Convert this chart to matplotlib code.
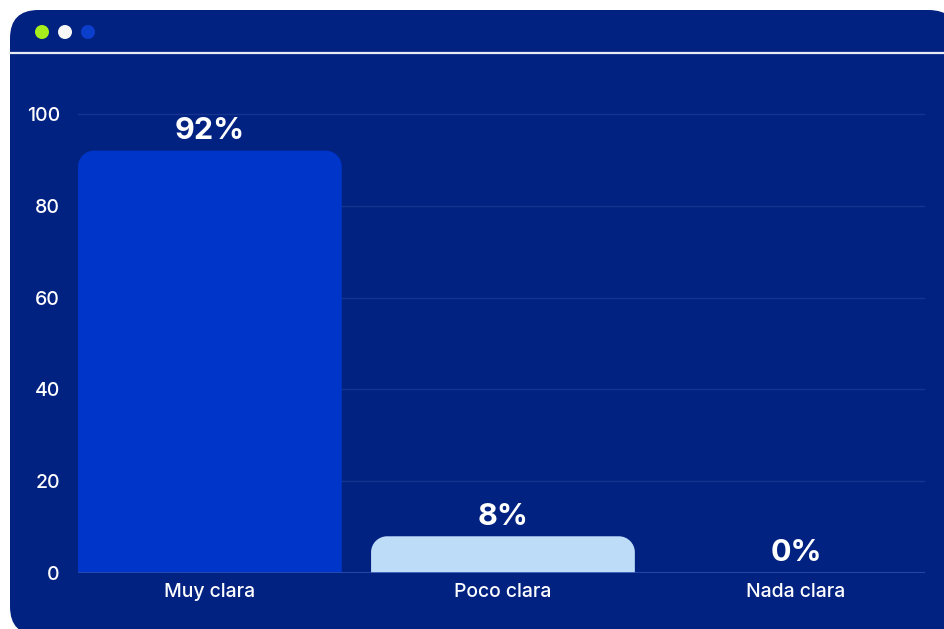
import matplotlib
matplotlib.use("Agg")
import matplotlib.pyplot as plt
from matplotlib.patches import FancyBboxPatch, Ellipse, PathPatch
from matplotlib.path import Path
from matplotlib.lines import Line2D

categories = ["Muy clara", "Poco clara", "Nada clara"]
values = [92, 8, 0]
value_labels = ["92%", "8%", "0%"]
yticks = [0, 20, 40, 60, 80, 100]

PANEL = "#012281"
BAR_COLORS = ["#0035c9", "#bddcf8", "#bddcf8"]
GRID = "#15358f"
BASE = "#2c4fae"
TEXT = "#ffffff"
FONT = ["Inter", "DejaVu Sans"]

W, H = 945, 629
fig = plt.figure(figsize=(W / 100, H / 100), dpi=100)
fig.patch.set_facecolor("white")

# window-like panel behind the chart
panel = FancyBboxPatch((10 / W, -6 / H), (W + 2) / W, (H - 4) / H,
                       boxstyle="round,pad=0,rounding_size=0.03",
                       transform=fig.transFigure, facecolor=PANEL,
                       edgecolor="none", mutation_aspect=W / H, zorder=-10)
fig.add_artist(panel)
fig.add_artist(Line2D([10 / W, 1.0], [1 - 53 / H] * 2, transform=fig.transFigure,
                      color="#e8ecf6", lw=1.6, zorder=-5))
r = 7.0
for cx, col in zip([42, 65, 88], ["#a6ef1c", "#f7f7f7", "#0b3fcb"]):
    fig.add_artist(Ellipse((cx / W, 1 - 32 / H), 2 * r / W, 2 * r / H,
                           transform=fig.transFigure, facecolor=col,
                           edgecolor="none", zorder=-5))

ax = fig.add_axes([78 / W, 56 / H, 847 / W, 482 / H])
ax.set_zorder(5)
ax.set_facecolor("none")
ax.set_xlim(-0.45, 2.44)
ax.set_ylim(0, 105)
for s in ax.spines.values():
    s.set_visible(False)

for y in yticks[1:]:
    ax.axhline(y, color=GRID, lw=1.0, zorder=0)
ax.axhline(0, color=BASE, lw=1.2, zorder=3)

# bars with rounded top corners
width = 0.9
px_x = 847 / (2.44 + 0.45)
px_y = 482 / 105
r_px = 16
for i, v in enumerate(values):
    if v <= 0:
        continue
    x0, x1 = i - width / 2, i + width / 2
    rx = r_px / px_x
    ry = min(r_px / px_y, v)
    k = 0.5523
    verts = [(x0, 0), (x0, v - ry),
             (x0, v - ry + k * ry), (x0 + rx - k * rx, v), (x0 + rx, v),
             (x1 - rx, v),
             (x1 - rx + k * rx, v), (x1, v - ry + k * ry), (x1, v - ry),
             (x1, 0), (x0, 0)]
    codes = [Path.MOVETO, Path.LINETO,
             Path.CURVE4, Path.CURVE4, Path.CURVE4,
             Path.LINETO,
             Path.CURVE4, Path.CURVE4, Path.CURVE4,
             Path.LINETO, Path.CLOSEPOLY]
    ax.add_patch(PathPatch(Path(verts, codes), facecolor=BAR_COLORS[i],
                           edgecolor="none", zorder=2))

for i, (v, lab) in enumerate(zip(values, value_labels)):
    ax.annotate(lab, (i, v), xytext=(0, 4), textcoords="offset points",
                ha="center", va="bottom", color=TEXT, fontsize=22,
                fontweight="bold", family=FONT)

ax.set_yticks(yticks)
ax.set_yticklabels([str(t) for t in yticks], family=FONT, fontsize=14,
                   color=TEXT, fontweight="medium")
ax.set_xticks(range(len(categories)))
ax.set_xticklabels(categories, family=FONT, fontsize=14, color=TEXT,
                   fontweight="medium")
ax.tick_params(axis="y", length=0, pad=13)
ax.tick_params(axis="x", length=0, pad=7)

fig.savefig("out.png", dpi=100, facecolor="white")
